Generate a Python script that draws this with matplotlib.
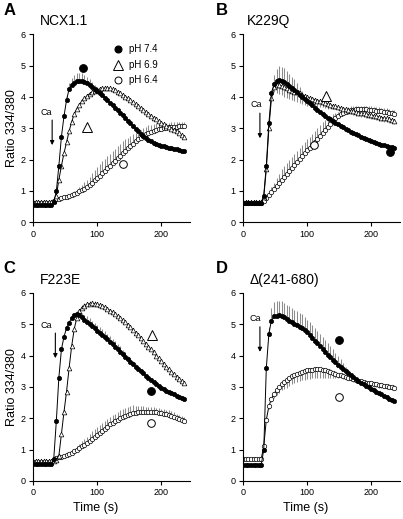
import numpy as np
import matplotlib
matplotlib.use("Agg")
import matplotlib.pyplot as plt

plt.rcParams['font.family'] = ['Liberation Sans', 'DejaVu Sans']

# time base (s), one sample every 4 s
t = np.arange(0, 240, 4)

# ---- panel A : NCX1.1 ----
a74 = [0.55, 0.55, 0.55, 0.55, 0.55, 0.55, 0.55, 0.55,
       0.65, 0.98, 1.80, 2.73, 3.38, 3.90, 4.25, 4.38,
       4.45, 4.50, 4.52, 4.52, 4.48, 4.44, 4.38, 4.32,
       4.26, 4.20, 4.13, 4.06, 3.98, 3.90, 3.82, 3.74,
       3.66, 3.58, 3.50, 3.42, 3.33, 3.24, 3.15, 3.07,
       2.99, 2.91, 2.83, 2.76, 2.69, 2.63, 2.58, 2.54,
       2.50, 2.47, 2.44, 2.42, 2.40, 2.38, 2.36, 2.34,
       2.32, 2.30, 2.28, 2.26]
a74_err = [0, 0, 0, 0, 0, 0, 0, 0,
           0, 0, 0.02, 0.05, 0.10, 0.15, 0.20, 0.22,
           0.25, 0.25, 0.25, 0.25, 0.23, 0.20, 0.18, 0.15,
           0.12, 0.10, 0.07, 0.05, 0.05, 0.05, 0.04, 0.04,
           0.04, 0.04, 0.04, 0.04, 0.04, 0.04, 0.04, 0.04,
           0.03, 0.03, 0.03, 0.03, 0.03, 0.03, 0.03, 0.03,
           0.03, 0.03, 0.03, 0.03, 0.03, 0.03, 0.03, 0.03,
           0.03, 0.03, 0.03, 0.03]
a69 = [0.65, 0.65, 0.65, 0.65, 0.65, 0.65, 0.65, 0.65,
       0.68, 0.85, 1.35, 1.80, 2.20, 2.55, 2.90, 3.20,
       3.45, 3.62, 3.75, 3.86, 3.95, 4.03, 4.10, 4.16,
       4.20, 4.23, 4.25, 4.27, 4.28, 4.28, 4.27, 4.24,
       4.21, 4.17, 4.12, 4.07, 4.01, 3.95, 3.89, 3.83,
       3.76, 3.70, 3.64, 3.58, 3.52, 3.46, 3.40, 3.34,
       3.28, 3.22, 3.17, 3.12, 3.07, 3.03, 2.99, 2.95,
       2.91, 2.85, 2.78, 2.72]
a69_err = [0, 0, 0, 0, 0, 0, 0, 0,
           0.02, 0.03, 0.05, 0.05, 0.05, 0.05, 0.05, 0.05,
           0.05, 0.05, 0.05, 0.05, 0.05, 0.05, 0.05, 0.05,
           0.05, 0.05, 0.05, 0.05, 0.05, 0.05, 0.05, 0.05,
           0.05, 0.05, 0.05, 0.05, 0.05, 0.05, 0.05, 0.05,
           0.05, 0.05, 0.05, 0.05, 0.05, 0.05, 0.05, 0.05,
           0.05, 0.05, 0.05, 0.05, 0.05, 0.05, 0.05, 0.05,
           0.05, 0.05, 0.05, 0.05]
a64 = [0.60, 0.60, 0.60, 0.60, 0.60, 0.60, 0.60, 0.60,
       0.68, 0.73, 0.75, 0.77, 0.79, 0.81, 0.84, 0.87,
       0.90, 0.94, 0.98, 1.02, 1.07, 1.13, 1.19, 1.26,
       1.33, 1.40, 1.48, 1.56, 1.64, 1.72, 1.80, 1.88,
       1.96, 2.04, 2.12, 2.20, 2.28, 2.36, 2.44, 2.51,
       2.58, 2.64, 2.70, 2.75, 2.80, 2.85, 2.89, 2.92,
       2.95, 2.97, 2.99, 3.01, 3.02, 3.03, 3.04, 3.05,
       3.05, 3.06, 3.06, 3.06]
a64_err = [0, 0, 0, 0, 0, 0, 0, 0,
           0.02, 0.02, 0.02, 0.02, 0.03, 0.03, 0.04, 0.05,
           0.08, 0.10, 0.13, 0.16, 0.20, 0.23, 0.26, 0.30,
           0.32, 0.35, 0.38, 0.38, 0.38, 0.38, 0.38, 0.38,
           0.38, 0.38, 0.38, 0.38, 0.36, 0.34, 0.32, 0.30,
           0.28, 0.25, 0.25, 0.25, 0.25, 0.25, 0.20, 0.20,
           0.20, 0.20, 0.20, 0.15, 0.15, 0.15, 0.15, 0.15,
           0.15, 0.15, 0.15, 0.15]

# ---- panel B : K229Q ----
b74 = [0.60, 0.60, 0.60, 0.60, 0.60, 0.60, 0.60, 0.60,
       0.85, 1.80, 3.15, 4.12, 4.40, 4.50, 4.54, 4.52,
       4.47, 4.40, 4.34, 4.27, 4.21, 4.14, 4.07, 4.00,
       3.93, 3.87, 3.80, 3.73, 3.66, 3.59, 3.52, 3.46,
       3.40, 3.34, 3.28, 3.23, 3.18, 3.13, 3.08, 3.03,
       2.98, 2.93, 2.89, 2.85, 2.81, 2.77, 2.73, 2.69,
       2.65, 2.61, 2.58, 2.55, 2.52, 2.49, 2.47, 2.45,
       2.43, 2.41, 2.40, 2.38]
b74_err = [0, 0, 0, 0, 0, 0, 0, 0,
           0, 0, 0.05, 0.10, 0.30, 0.40, 0.45, 0.45,
           0.45, 0.42, 0.40, 0.38, 0.35, 0.30, 0.25, 0.20,
           0.15, 0.10, 0.06, 0.05, 0.05, 0.05, 0.05, 0.05,
           0.04, 0.04, 0.04, 0.04, 0.04, 0.04, 0.04, 0.04,
           0.04, 0.04, 0.04, 0.04, 0.04, 0.04, 0.04, 0.04,
           0.04, 0.04, 0.04, 0.04, 0.04, 0.04, 0.04, 0.04,
           0.04, 0.04, 0.04, 0.04]
b69 = [0.65, 0.65, 0.65, 0.65, 0.65, 0.65, 0.65, 0.65,
       0.80, 1.70, 3.00, 3.95, 4.30, 4.38, 4.38, 4.35,
       4.31, 4.27, 4.23, 4.20, 4.17, 4.14, 4.11, 4.07,
       4.04, 4.00, 3.97, 3.94, 3.91, 3.88, 3.86, 3.83,
       3.80, 3.77, 3.75, 3.72, 3.70, 3.67, 3.65, 3.62,
       3.60, 3.58, 3.56, 3.54, 3.52, 3.50, 3.48, 3.47,
       3.45, 3.43, 3.42, 3.40, 3.38, 3.36, 3.34, 3.33,
       3.31, 3.29, 3.27, 3.24]
# drawn downward
b69_err = [0, 0, 0, 0, 0, 0, 0, 0,
           0, 0, 0, 0.05, 0.15, 0.25, 0.30, 0.30,
           0.30, 0.30, 0.30, 0.30, 0.30, 0.30, 0.30, 0.30,
           0.30, 0.28, 0.26, 0.24, 0.22, 0.20, 0.18, 0.16,
           0.15, 0.15, 0.12, 0.10, 0.10, 0.10, 0.10, 0.10,
           0.12, 0.12, 0.12, 0.12, 0.12, 0.12, 0.12, 0.12,
           0.12, 0.12, 0.12, 0.12, 0.12, 0.12, 0.12, 0.12,
           0.12, 0.12, 0.12, 0.12]
b64 = [0.62, 0.62, 0.62, 0.62, 0.62, 0.62, 0.62, 0.62,
       0.68, 0.78, 0.87, 0.97, 1.06, 1.16, 1.25, 1.35,
       1.45, 1.55, 1.64, 1.74, 1.83, 1.92, 2.01, 2.11,
       2.20, 2.29, 2.38, 2.47, 2.57, 2.66, 2.76, 2.86,
       2.95, 3.05, 3.14, 3.24, 3.32, 3.39, 3.45, 3.50,
       3.53, 3.56, 3.58, 3.59, 3.60, 3.60, 3.60, 3.60,
       3.60, 3.59, 3.58, 3.57, 3.56, 3.55, 3.54, 3.52,
       3.51, 3.49, 3.47, 3.45]
b64_err = [0, 0, 0, 0, 0, 0, 0, 0,
           0.02, 0.05, 0.10, 0.15, 0.20, 0.25, 0.30, 0.35,
           0.35, 0.35, 0.35, 0.35, 0.35, 0.35, 0.35, 0.35,
           0.35, 0.35, 0.35, 0.35, 0.35, 0.35, 0.35, 0.33,
           0.30, 0.28, 0.25, 0.20, 0.15, 0.12, 0.12, 0.12,
           0.12, 0.12, 0.12, 0.12, 0.12, 0.12, 0.12, 0.12,
           0.12, 0.12, 0.12, 0.12, 0.12, 0.12, 0.12, 0.12,
           0.12, 0.12, 0.12, 0.12]

# ---- panel C : F223E ----
c74 = [0.55, 0.55, 0.55, 0.55, 0.55, 0.55, 0.55, 0.55,
       0.70, 1.90, 3.30, 4.20, 4.60, 4.88, 5.05, 5.20,
       5.30, 5.33, 5.30, 5.23, 5.15, 5.08, 5.01, 4.94,
       4.87, 4.80, 4.73, 4.66, 4.59, 4.52, 4.44, 4.36,
       4.28, 4.20, 4.12, 4.04, 3.96, 3.88, 3.80, 3.72,
       3.64, 3.57, 3.50, 3.43, 3.35, 3.28, 3.22, 3.15,
       3.09, 3.03, 2.98, 2.93, 2.88, 2.84, 2.80, 2.76,
       2.72, 2.69, 2.66, 2.63]
c74_err = [0, 0, 0, 0, 0, 0, 0, 0,
           0, 0, 0, 0, 0, 0, 0.03, 0.05,
           0.05, 0.08, 0.10, 0.12, 0.15, 0.18, 0.18, 0.18,
           0.18, 0.18, 0.18, 0.18, 0.18, 0.18, 0.18, 0.18,
           0.18, 0.18, 0.18, 0.15, 0.15, 0.12, 0.12, 0.10,
           0.10, 0.08, 0.08, 0.06, 0.05, 0.05, 0.05, 0.05,
           0.04, 0.04, 0.04, 0.04, 0.04, 0.04, 0.04, 0.04,
           0.04, 0.04, 0.04, 0.04]
c69 = [0.62, 0.62, 0.62, 0.62, 0.62, 0.62, 0.62, 0.62,
       0.62, 0.68, 0.80, 1.50, 2.20, 2.85, 3.60, 4.30,
       4.85, 5.20, 5.42, 5.53, 5.60, 5.64, 5.66, 5.67,
       5.66, 5.64, 5.61, 5.58, 5.54, 5.49, 5.44, 5.39,
       5.33, 5.27, 5.20, 5.13, 5.06, 4.98, 4.90, 4.82,
       4.73, 4.65, 4.56, 4.47, 4.38, 4.29, 4.20, 4.10,
       4.00, 3.91, 3.82, 3.73, 3.64, 3.56, 3.48, 3.40,
       3.33, 3.26, 3.19, 3.12]
c69_err = [0, 0, 0, 0, 0, 0, 0, 0,
           0, 0.02, 0.03, 0.05, 0.05, 0.05, 0.05, 0.05,
           0.06, 0.08, 0.08, 0.08, 0.08, 0.08, 0.08, 0.08,
           0.08, 0.08, 0.08, 0.06, 0.06, 0.06, 0.05, 0.05,
           0.05, 0.05, 0.05, 0.05, 0.05, 0.05, 0.05, 0.05,
           0.05, 0.05, 0.05, 0.05, 0.05, 0.05, 0.05, 0.05,
           0.05, 0.05, 0.05, 0.05, 0.05, 0.05, 0.05, 0.05,
           0.05, 0.05, 0.05, 0.05]
c64 = [0.60, 0.60, 0.60, 0.60, 0.60, 0.60, 0.60, 0.60,
       0.68, 0.73, 0.75, 0.77, 0.79, 0.82, 0.86, 0.90,
       0.95, 1.00, 1.05, 1.10, 1.15, 1.21, 1.27, 1.34,
       1.41, 1.47, 1.53, 1.60, 1.66, 1.73, 1.80, 1.85,
       1.90, 1.95, 2.00, 2.04, 2.08, 2.11, 2.14, 2.16,
       2.18, 2.19, 2.20, 2.21, 2.21, 2.21, 2.21, 2.20,
       2.19, 2.17, 2.16, 2.14, 2.12, 2.10, 2.08, 2.05,
       2.02, 1.98, 1.95, 1.91]
c64_err = [0, 0, 0, 0, 0, 0, 0, 0,
           0.02, 0.02, 0.02, 0.02, 0.03, 0.03, 0.04, 0.05,
           0.07, 0.10, 0.13, 0.16, 0.18, 0.20, 0.22, 0.24,
           0.25, 0.25, 0.25, 0.25, 0.25, 0.25, 0.25, 0.25,
           0.25, 0.25, 0.25, 0.25, 0.25, 0.25, 0.25, 0.25,
           0.22, 0.20, 0.18, 0.17, 0.16, 0.15, 0.15, 0.15,
           0.15, 0.15, 0.15, 0.15, 0.15, 0.15, 0.15, 0.15,
           0.12, 0.12, 0.12, 0.12]

# ---- panel D : delta(241-680) ----
d74 = [0.50, 0.50, 0.50, 0.50, 0.50, 0.50, 0.50, 0.50,
       1.00, 3.60, 4.70, 5.12, 5.25, 5.28, 5.30, 5.28,
       5.22, 5.17, 5.12, 5.07, 5.02, 4.97, 4.92, 4.87,
       4.81, 4.75, 4.66, 4.57, 4.48, 4.39, 4.30, 4.21,
       4.12, 4.03, 3.95, 3.87, 3.79, 3.71, 3.64, 3.57,
       3.50, 3.43, 3.37, 3.31, 3.25, 3.19, 3.14, 3.09,
       3.04, 2.99, 2.94, 2.89, 2.84, 2.80, 2.76, 2.71,
       2.67, 2.63, 2.59, 2.55]
d74_err = [0, 0, 0, 0, 0, 0, 0, 0,
           0, 0, 0.20, 0.40, 0.45, 0.45, 0.45, 0.45,
           0.45, 0.45, 0.45, 0.45, 0.45, 0.45, 0.45, 0.45,
           0.42, 0.40, 0.40, 0.40, 0.40, 0.40, 0.40, 0.38,
           0.38, 0.36, 0.35, 0.33, 0.30, 0.28, 0.25, 0.20,
           0.15, 0.10, 0.05, 0.05, 0.05, 0.05, 0.05, 0.05,
           0.04, 0.04, 0.04, 0.04, 0.04, 0.04, 0.04, 0.04,
           0.04, 0.04, 0.04, 0.04]
d64 = [0.70, 0.70, 0.70, 0.70, 0.70, 0.70, 0.70, 0.70,
       1.10, 1.95, 2.38, 2.62, 2.78, 2.90, 3.00, 3.10,
       3.17, 3.23, 3.29, 3.34, 3.38, 3.42, 3.45, 3.48,
       3.51, 3.53, 3.54, 3.55, 3.56, 3.56, 3.56, 3.55,
       3.54, 3.52, 3.49, 3.46, 3.42, 3.39, 3.37, 3.34,
       3.32, 3.30, 3.27, 3.25, 3.22, 3.20, 3.18, 3.16,
       3.14, 3.12, 3.11, 3.09, 3.08, 3.06, 3.05, 3.03,
       3.02, 3.00, 2.99, 2.98]
# drawn downward
d64_err = [0, 0, 0, 0, 0, 0, 0, 0,
           0, 0.05, 0.08, 0.10, 0.12, 0.15, 0.18, 0.20,
           0.25, 0.25, 0.25, 0.25, 0.25, 0.25, 0.25, 0.25,
           0.28, 0.28, 0.28, 0.28, 0.28, 0.28, 0.28, 0.28,
           0.25, 0.22, 0.20, 0.18, 0.15, 0.12, 0.10, 0.10,
           0.08, 0.08, 0.08, 0.08, 0.08, 0.08, 0.08, 0.08,
           0.08, 0.08, 0.08, 0.08, 0.08, 0.08, 0.08, 0.08,
           0.08, 0.08, 0.08, 0.08]

titles = ["NCX1.1", "K229Q", "F223E", "\u0394(241-680)"]
letters = ["A", "B", "C", "D"]
legend_labels = ["pH 7.4", "pH 6.9", "pH 6.4"]

styles = {
    "7.4": dict(marker='o', ms=3.1, mfc='black', mec='black', mew=0.5),
    "6.9": dict(marker='^', ms=3.4, mfc='white', mec='black', mew=0.5),
    "6.4": dict(marker='o', ms=3.2, mfc='white', mec='black', mew=0.5),
}
big = {
    "7.4": dict(marker='o', ms=5.5, mfc='black', mec='black', mew=0.8),
    "6.9": dict(marker='^', ms=7, mfc='white', mec='black', mew=0.7),
    "6.4": dict(marker='o', ms=5.5, mfc='white', mec='black', mew=0.7),
}

# (values, error, error direction, pH) in drawing order
panels = [
    [(a64, a64_err, 'up', "6.4"), (a69, a69_err, 'up', "6.9"), (a74, a74_err, 'up', "7.4")],
    [(b64, b64_err, 'up', "6.4"), (b69, b69_err, 'down', "6.9"), (b74, b74_err, 'up', "7.4")],
    [(c64, c64_err, 'up', "6.4"), (c69, c69_err, 'up', "6.9"), (c74, c74_err, 'up', "7.4")],
    [(d64, d64_err, 'down', "6.4"), (d74, d74_err, 'up', "7.4")],
]
# symbol labels inside panels
tags = [
    [("7.4", 77, 4.92), ("6.9", 84, 3.05), ("6.4", 141, 1.85)],
    [("6.9", 130, 4.03), ("6.4", 111, 2.45), ("7.4", 230, 2.25)],
    [("6.9", 185, 4.66), ("7.4", 184, 2.88), ("6.4", 184, 1.84)],
    [("7.4", 150, 4.50), ("6.4", 150, 2.69)],
]
# Ca arrow: text x, text y, arrow x, arrow top, arrow bottom
ca = [(21, 3.50, 29.5, 3.26, 2.46),
      (20.5, 3.76, 26, 3.48, 2.68),
      (21, 4.95, 34.5, 4.72, 3.92),
      (18.5, 5.19, 26, 4.92, 4.12)]

fig = plt.figure(figsize=(4.03, 5.19), dpi=100)
boxes = [(0.0826, 0.572), (0.6037, 0.572), (0.0826, 0.0735), (0.6037, 0.0735)]
letter_pos = [(0.008, 0.995), (0.536, 0.995), (0.008, 0.498), (0.536, 0.498)]

for i, (left, bottom) in enumerate(boxes):
    ax = fig.add_axes([left, bottom, 0.3888, 0.362])
    for vals, err, direction, ph in panels[i]:
        vals = np.array(vals)
        err = np.array(err)
        if direction == 'up':
            yerr = [np.zeros_like(err), err]
        else:
            yerr = [err, np.zeros_like(err)]
        ax.errorbar(t, vals, yerr=yerr, fmt='none', ecolor='#8c8c8c',
                    elinewidth=0.75, capsize=0, zorder=1)
    for vals, err, direction, ph in panels[i]:
        ax.plot(t, vals, color='black', lw=0.7, zorder=2, **styles[ph])

    for ph, x, y in tags[i]:
        ax.plot([x], [y], zorder=3, clip_on=False, **big[ph])

    tx, ty, axx, atop, abot = ca[i]
    ax.text(tx, ty, "Ca", fontsize=6.5, ha='center', va='center')
    ax.annotate('', xy=(axx, abot), xytext=(axx, atop),
                arrowprops=dict(arrowstyle='-|>', color='black', lw=0.8,
                                mutation_scale=6, shrinkA=0, shrinkB=0))

    ax.set_xlim(0, 245)
    ax.set_ylim(0, 6)
    ax.set_xticks([0, 100, 200])
    ax.set_yticks([0, 1, 2, 3, 4, 5, 6])
    for s in ['top', 'right']:
        ax.spines[s].set_visible(False)
    for s in ['left', 'bottom']:
        ax.spines[s].set_linewidth(0.8)
    ax.tick_params(direction='out', length=3, width=0.8, labelsize=6.5, pad=2.5)

    ax.text(0.04 if i != 1 else 0.025, 1.07, titles[i], transform=ax.transAxes,
            fontsize=10, ha='left', va='center')
    fig.text(letter_pos[i][0], letter_pos[i][1], letters[i], fontsize=12,
             fontweight='bold', ha='left', va='top')

    if i in (0, 2):
        ax.text(-0.136, 0.5, "Ratio 334/380", transform=ax.transAxes,
                rotation=90, fontsize=9, ha='center', va='center')
    if i in (2, 3):
        ax.text(0.4, -0.146, "Time (s)", transform=ax.transAxes,
                fontsize=9, ha='center', va='center')

    if i == 0:
        for k, ph in enumerate(["7.4", "6.9", "6.4"]):
            y = [5.53, 5.02, 4.54][k]
            ax.plot([132], [y], clip_on=False, **{**big[ph], 'ms': big[ph]['ms'] - 0.5})
            ax.text(149, y, legend_labels[k], fontsize=7, ha='left', va='center')

fig.savefig("out.png", dpi=100)
